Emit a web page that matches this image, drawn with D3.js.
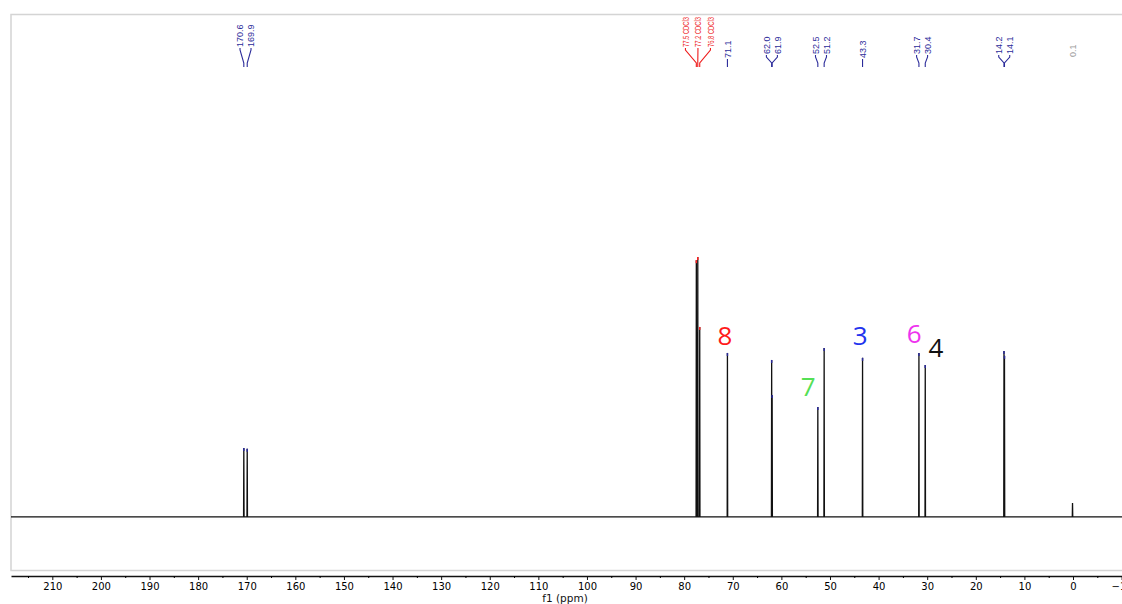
<!DOCTYPE html>
<html lang="en">
<head>
<meta charset="UTF-8">
<title>13C NMR</title>
<style>
  body { margin: 0; background: #fff; }
  svg { display: block; }
</style>
</head>
<body>
<script src="https://cdn.jsdelivr.net/npm/d3@7/dist/d3.min.js"></script>
<script>
    // data
    var peakPpm = [170.6, 169.9, 77.5, 77.2, 76.8, 71.1, 62.0, 61.9, 52.5, 51.2, 43.3, 31.7, 30.4, 14.2, 14.1, 0.1];
    var peakHeight = [26.5, 26.2, 98.8, 100, 73.1, 63.1, 60.4, 46.9, 42.3, 65, 61.2, 63.1, 58.5, 63.8, 62, 5.4];
    var solventPpm = [77.5, 77.2, 76.8];
    var labelGroups = [[170.6, 169.9], [77.5, 77.2, 76.8], [71.1], [62.0, 61.9], [52.5, 51.2], [43.3], [31.7, 30.4], [14.2, 14.1]];
    var refPpm = 0.1;
    var tickValues = [210, 200, 190, 180, 170, 160, 150, 140, 130, 120, 110, 100, 90, 80, 70, 60, 50, 40, 30, 20, 10, 0, -10];
    var minorTicks = [215, 205, 195, 185, 175, 165, 155, 145, 135, 125, 115, 105, 95, 85, 75, 65, 55, 45, 35, 25, 15, 5, -5];
    // carbon assignments (number, ppm, intensity of baseline)
    var assignText = ['8', '7', '3', '6', '4'];
    var assignPpm = [71.6, 54.5, 43.8, 32.7, 28.2];
    var assignLevel = [66.2, 46.5, 66.2, 66.9, 61.5];
    var assignColor = ['#ff1a1a', '#55e055', '#2233ee', '#ee33ee', '#111111'];

    var width = 1122, height = 604;
    var labelFont = 'Liberation Sans Narrow, Liberation Sans, Arial, sans-serif';

    var svg = d3.select('body').append('svg')
        .attr('width', width)
        .attr('height', height);

    var x = d3.scaleLinear().domain([218.5, -10.08]).range([11, 1122]);
    var y = d3.scaleLinear().domain([-20.8, 193.5]).range([571, 14]);

    // frame
    svg.append('rect')
        .attr('x', 11).attr('y', 14.5)
        .attr('width', 1130).attr('height', 556)
        .attr('fill', 'none')
        .attr('stroke', '#d4d4d4')
        .attr('stroke-width', 1.5);

    // spectrum line: baseline with a spike at each peak
    var pts = [[218.5, 0]];
    var order = d3.range(peakPpm.length).sort(function(a, b) { return peakPpm[b] - peakPpm[a]; });
    order.forEach(function(i) {
        pts.push([peakPpm[i] + 0.05, 0], [peakPpm[i], peakHeight[i]], [peakPpm[i] - 0.05, 0]);
    });
    pts.push([-10.08, 0]);

    var line = d3.line()
        .x(function(d) { return x(d[0]); })
        .y(function(d) { return y(d[1]); });

    svg.append('path')
        .attr('d', line(pts))
        .attr('fill', 'none')
        .attr('stroke', '#111')
        .attr('stroke-width', 1.3);

    // coloured peak tips
    svg.selectAll('.tip')
        .data(d3.range(peakPpm.length - 1))
        .enter().append('line')
        .attr('x1', function(i) { return x(peakPpm[i]); })
        .attr('x2', function(i) { return x(peakPpm[i]); })
        .attr('y1', function(i) { return y(peakHeight[i]); })
        .attr('y2', function(i) { return y(peakHeight[i]) + 3; })
        .attr('stroke', function(i) { return solventPpm.indexOf(peakPpm[i]) >= 0 ? '#ff2020' : '#2b2b9a'; })
        .attr('stroke-width', 1.5);

    // peak labels on top
    var connBottom = 67;
    labelGroups.forEach(function(g) {
        var px = g.map(function(p) { return x(p); });
        var mid = d3.mean(px);
        var solvent = solventPpm.indexOf(g[0]) >= 0;
        var gap = solvent ? 12.5 : 11;
        var lead = g.length == 1 ? 8 : (solvent || g[0] > 100 ? 19 : 12);
        var col = solvent ? '#ee1c1c' : '#2b2b9a';
        var top = connBottom - lead;
        g.forEach(function(p, i) {
            var sx = mid + (i - (g.length - 1) / 2) * gap;
            var d = g.length == 1
                ? 'M' + px[i] + ',' + top + 'V' + connBottom
                : 'M' + sx + ',' + top + 'V' + (top + 2) + 'L' + px[i] + ',' + (connBottom - 4) + 'V' + connBottom;
            svg.append('path')
                .attr('d', d)
                .attr('fill', 'none')
                .attr('stroke', col)
                .attr('stroke-width', 1.1);
            var t = svg.append('text')
                .attr('transform', 'translate(' + (g.length == 1 ? px[i] : sx) + ',' + (top - 1) + ') rotate(-90)')
                .attr('dy', '0.35em')
                .attr('font-family', labelFont)
                .attr('font-size', '9px')
                .attr('fill', col)
                .text(p.toFixed(1) + (solvent ? ' CDCl3' : ''));
            if (solvent) t.attr('textLength', 30).attr('lengthAdjust', 'spacingAndGlyphs');
        });
    });

    svg.append('text')
        .attr('transform', 'translate(' + x(refPpm) + ',57) rotate(-90)')
        .attr('dy', '0.35em')
        .attr('font-family', labelFont)
        .attr('font-size', '9px')
        .attr('fill', '#999')
        .text(refPpm.toFixed(1));

    // assignment numbers
    svg.selectAll('.assign')
        .data(assignText)
        .enter().append('text')
        .attr('x', function(d, i) { return x(assignPpm[i]); })
        .attr('y', function(d, i) { return y(assignLevel[i]); })
        .attr('text-anchor', 'middle')
        .attr('font-family', 'Open Sans, sans-serif')
        .attr('font-size', '26px')
        .attr('fill', function(d, i) { return assignColor[i]; })
        .text(function(d) { return d; });

    // x axis
    var axis = svg.append('g')
        .attr('transform', 'translate(0,576)')
        .call(d3.axisBottom(x).tickValues(tickValues).tickSize(4).tickSizeOuter(0).tickPadding(3)
            .tickFormat(d3.format('d')));
    axis.select('.domain').attr('stroke', '#111').attr('stroke-width', 1.3);
    axis.selectAll('.tick line').attr('stroke', '#111');
    axis.selectAll('.tick text')
        .attr('font-family', 'DejaVu Sans, sans-serif')
        .attr('font-size', '10px')
        .attr('fill', '#000');

    svg.append('g')
        .attr('transform', 'translate(0,576)')
        .call(d3.axisBottom(x).tickValues(minorTicks).tickSize(2).tickSizeOuter(0).tickFormat(''))
        .select('.domain').remove();

    svg.append('text')
        .attr('x', 565).attr('y', 602)
        .attr('text-anchor', 'middle')
        .attr('font-family', 'DejaVu Sans, sans-serif')
        .attr('font-size', '10.5px')
        .attr('fill', '#111')
        .text('f1 (ppm)');
</script>
</body>
</html>
